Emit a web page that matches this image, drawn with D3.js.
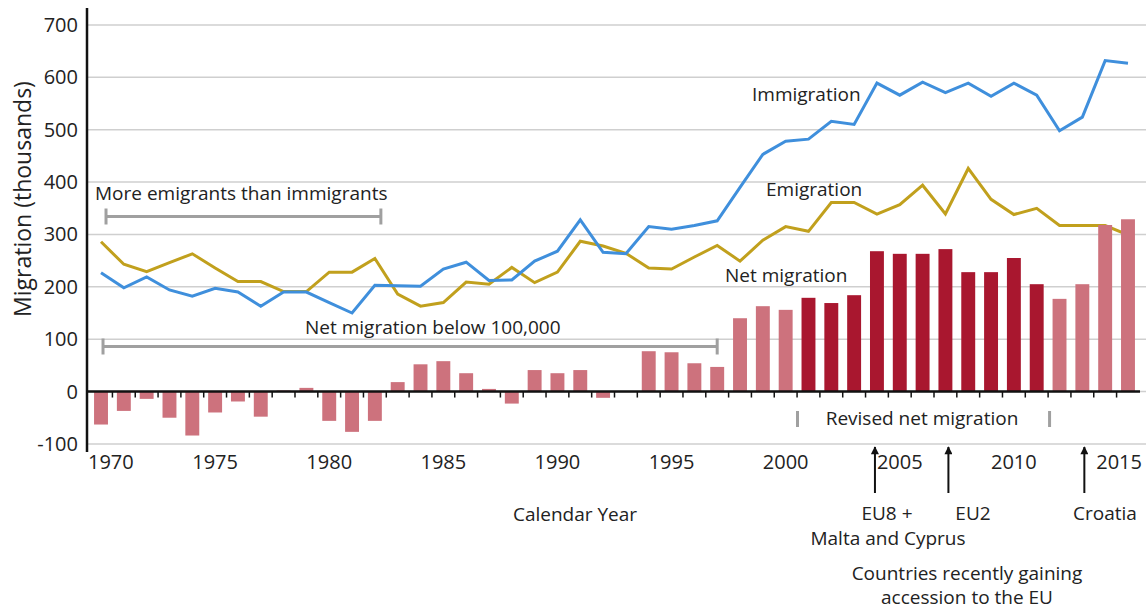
<!DOCTYPE html>
<html>
<head>
<meta charset="utf-8">
<script src="https://cdn.jsdelivr.net/npm/d3@7"></script>
<style>
  body { margin: 0; background: #fff; }
  svg { display: block; font-family: "Open Sans", sans-serif; }
  .lbl { font-size: 19px; fill: #222; }
</style>
</head>
<body>
<div id="chart"></div>
<script>
// data (thousands)
var years = d3.range(1970, 2016);
var immigration = [227, 198, 219, 194, 182, 197, 190, 163, 190, 190,
                   170, 150, 203, 202, 201, 234, 247, 212, 213, 249,
                   268, 328, 266, 263, 315, 310, 317, 326, 390, 453,
                   478, 482, 516, 510, 589, 566, 591, 571, 589, 564,
                   589, 566, 498, 524, 632, 627];
var emigration = [286, 243, 229, 246, 263, 236, 210, 210, 191, 191,
                  228, 228, 254, 186, 163, 170, 209, 205, 237, 208,
                  228, 287, 278, 264, 236, 234, 257, 279, 249, 289,
                  315, 306, 361, 361, 339, 357, 394, 339, 426, 367,
                  338, 350, 317, 317, 317, 299];
var netMigration = [-63, -37, -14, -50, -84, -40, -19, -48, 2, 7,
                    -56, -77, -56, 18, 52, 58, 35, 5, -23, 41,
                    35, 41, -12, -1, 77, 75, 54, 47, 140, 163,
                    156, 179, 169, 184, 268, 263, 263, 272, 228, 228,
                    255, 205, 177, 205, 318, 329];
var revisedYears = d3.range(2001, 2012);
var yTicks = [-100, 0, 100, 200, 300, 400, 500, 600, 700];
var yearLabels = [1970, 1975, 1980, 1985, 1990, 1995, 2000, 2005, 2010, 2015];
var accessions = [
  {year: 2004, lines: ["EU8 +", "Malta and Cyprus"]},
  {year: 2007, lines: ["EU2"]},
  {year: 2013, lines: ["Croatia"]}
];

var width = 1146, height = 609;
var axisX = 87;

var svg = d3.select("#chart").append("svg")
    .attr("width", width)
    .attr("height", height);

var x = d3.scaleBand()
    .domain(years)
    .range([89.6, 1139.4])
    .paddingInner(0.39)
    .paddingOuter(0.195);

var y = d3.scaleLinear()
    .domain([-100, 700])
    .range([443.9, 25]);

function cx(yr) { return x(yr) + x.bandwidth() / 2; }

// gridlines
svg.append("g")
    .selectAll("line")
    .data(yTicks)
    .join("line")
    .attr("x1", axisX)
    .attr("x2", width)
    .attr("y1", function(d) { return y(d); })
    .attr("y2", function(d) { return y(d); })
    .attr("stroke", "#cfcfcf")
    .attr("stroke-width", 1.5);

// y tick labels
svg.append("g")
    .selectAll("text")
    .data(yTicks)
    .join("text")
    .attr("x", 78)
    .attr("y", function(d) { return y(d); })
    .attr("dy", "0.35em")
    .attr("text-anchor", "end")
    .style("font-size", "20px")
    .attr("fill", "#222")
    .text(function(d) { return d; });

svg.append("text")
    .attr("transform", "translate(31,199) rotate(-90)")
    .attr("text-anchor", "middle")
    .style("font-size", "23px")
    .attr("fill", "#222")
    .text("Migration (thousands)");

// lines
var line = function(vals) {
    return d3.line()
        .x(function(d, i) { return cx(years[i]); })
        .y(function(d) { return y(d); })(vals);
};

svg.append("path")
    .attr("d", line(emigration))
    .attr("fill", "none")
    .attr("stroke", "#c1a01d")
    .attr("stroke-width", 3);

svg.append("path")
    .attr("d", line(immigration))
    .attr("fill", "none")
    .attr("stroke", "#3f8fdc")
    .attr("stroke-width", 3);

// bars
svg.append("g")
    .selectAll("rect")
    .data(years)
    .join("rect")
    .attr("x", function(d) { return x(d); })
    .attr("width", x.bandwidth())
    .attr("y", function(d, i) { return y(Math.max(0, netMigration[i])); })
    .attr("height", function(d, i) { return Math.abs(y(netMigration[i]) - y(0)); })
    .attr("fill", function(d) { return revisedYears.indexOf(d) >= 0 ? "#a9172f" : "#cd727d"; });

// axes
svg.append("line")
    .attr("x1", axisX).attr("x2", 1140)
    .attr("y1", y(0)).attr("y2", y(0))
    .attr("stroke", "#111").attr("stroke-width", 2.5);

svg.append("g")
    .selectAll("line")
    .data(years.slice(1))
    .join("line")
    .attr("x1", function(d) { return x(d) - x.step() * x.paddingInner() / 2; })
    .attr("x2", function(d) { return x(d) - x.step() * x.paddingInner() / 2; })
    .attr("y1", y(0))
    .attr("y2", y(0) + 6)
    .attr("stroke", "#111")
    .attr("stroke-width", 1.5);

svg.append("line")
    .attr("x1", axisX).attr("x2", axisX)
    .attr("y1", 8).attr("y2", 452)
    .attr("stroke", "#111").attr("stroke-width", 2.5);

// year labels, kept inside the axis span
svg.append("g")
    .selectAll("text")
    .data(yearLabels)
    .join("text")
    .attr("y", 469)
    .attr("text-anchor", "middle")
    .style("font-size", "20px")
    .attr("fill", "#222")
    .text(function(d) { return d; })
    .attr("x", function(d) {
        var w = this.getComputedTextLength();
        var c = cx(d);
        if (c - w / 2 < axisX + 1) c = axisX + 1 + w / 2;
        if (c + w / 2 > 1142) c = 1142 - w / 2;
        return c;
    });

// brackets
function bracket(x1, x2, yy, cap) {
    var g = svg.append("g").attr("stroke", "#a0a0a0").attr("stroke-width", 3);
    g.append("line").attr("x1", x1).attr("x2", x2).attr("y1", yy).attr("y2", yy);
    g.append("line").attr("x1", x1).attr("x2", x1).attr("y1", yy - cap).attr("y2", yy + cap);
    g.append("line").attr("x1", x2).attr("x2", x2).attr("y1", yy - cap).attr("y2", yy + cap);
}
bracket(cx(1970) + 5, cx(1982) + 6, 216.5, 8);
bracket(cx(1970) + 2, cx(1997), 346.5, 8);

svg.append("text").attr("class", "lbl")
    .attr("x", 95).attr("y", 200)
    .text("More emigrants than immigrants");
svg.append("text").attr("class", "lbl")
    .attr("x", 305).attr("y", 334)
    .text("Net migration below 100,000");
svg.append("text").attr("class", "lbl")
    .attr("x", 752).attr("y", 101)
    .text("Immigration");
svg.append("text").attr("class", "lbl")
    .attr("x", 766).attr("y", 196)
    .text("Emigration");
svg.append("text").attr("class", "lbl")
    .attr("x", 725).attr("y", 282)
    .text("Net migration");

// revised net migration marker
var revG = svg.append("g").attr("stroke", "#a0a0a0").attr("stroke-width", 3);
[x(2001) - 4, x(2012) - 3].forEach(function(px) {
    revG.append("line").attr("x1", px).attr("x2", px).attr("y1", 411).attr("y2", 427);
});
svg.append("text").attr("class", "lbl")
    .attr("x", 922).attr("y", 425)
    .attr("text-anchor", "middle")
    .text("Revised net migration");

svg.append("text").attr("class", "lbl")
    .attr("x", 575).attr("y", 521)
    .attr("text-anchor", "middle")
    .text("Calendar Year");

// accession arrows
svg.append("defs").append("marker")
    .attr("id", "arrow")
    .attr("viewBox", "0 0 10 10")
    .attr("refX", 9).attr("refY", 5)
    .attr("markerWidth", 5).attr("markerHeight", 4)
    .attr("markerUnits", "strokeWidth")
    .attr("orient", "auto")
    .append("path")
    .attr("d", "M0,0L10,5L0,10Z")
    .attr("fill", "#111");

var arrowShift = [-2, 3, 2];
accessions.forEach(function(a, i) {
    var px = cx(a.year) + arrowShift[i];
    svg.append("line")
        .attr("x1", px).attr("x2", px)
        .attr("y1", 493).attr("y2", 447)
        .attr("stroke", "#111").attr("stroke-width", 2)
        .attr("marker-end", "url(#arrow)");
});

svg.append("text").attr("class", "lbl").attr("x", 887).attr("y", 520)
    .attr("text-anchor", "middle").text(accessions[0].lines[0]);
svg.append("text").attr("class", "lbl").attr("x", 888).attr("y", 545)
    .attr("text-anchor", "middle").text(accessions[0].lines[1]);
svg.append("text").attr("class", "lbl").attr("x", 973).attr("y", 520)
    .attr("text-anchor", "middle").text(accessions[1].lines[0]);
svg.append("text").attr("class", "lbl").attr("x", 1105).attr("y", 520)
    .attr("text-anchor", "middle").text(accessions[2].lines[0]);

svg.append("text").attr("class", "lbl").attr("x", 967).attr("y", 580)
    .attr("text-anchor", "middle").text("Countries recently gaining");
svg.append("text").attr("class", "lbl").attr("x", 967).attr("y", 604)
    .attr("text-anchor", "middle").text("accession to the EU");
</script>
</body>
</html>
